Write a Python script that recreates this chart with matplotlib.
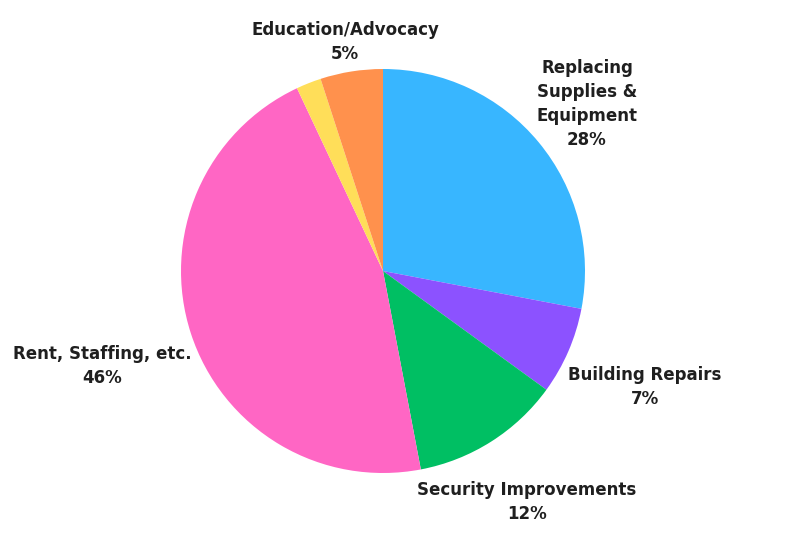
import matplotlib.pyplot as plt

# data
categories = ['Replacing\nSupplies &\nEquipment', 'Building Repairs', 'Security Improvements',
              'Rent, Staffing, etc.', '', 'Education/Advocacy']
values = [28, 7, 12, 46, 2, 5]
colors = ['#38B6FF', '#8C52FF', '#00BF63', '#FF66C4', '#FFDE59', '#FF914D']

# label centres in pixel coords (x, y from top)
label_pos = [(587, 104), (645, 387), (527, 502), (102, 366), None, (345, 42)]

fig = plt.figure(figsize=(8, 5.4), dpi=100)
ax = fig.add_axes([0, 0, 1, 1])

ax.pie(values, colors=colors, startangle=90, counterclock=False,
       center=(383, 540 - 271), radius=202, frame=True,
       wedgeprops=dict(linewidth=0))
ax.set_xlim(0, 800)
ax.set_ylim(0, 540)
ax.axis('off')

for cat, v, pos in zip(categories, values, label_pos):
    if pos is None:
        continue
    ax.text(pos[0], 540 - pos[1], f'{cat}\n{v}%', ha='center', va='center',
            fontsize=12, fontweight='bold', color='#1f1f1f', linespacing=1.45,
            family='DejaVu Sans')

fig.savefig('out.png', dpi=100, facecolor='white')
